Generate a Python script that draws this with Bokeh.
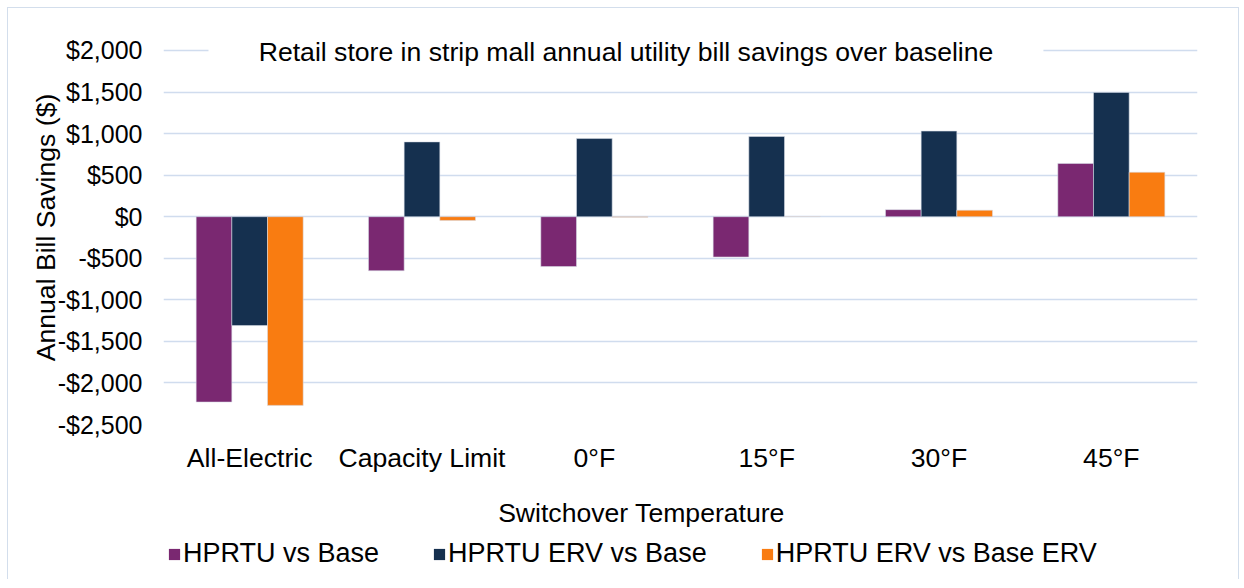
from bokeh.plotting import figure
from bokeh.layouts import column
from bokeh.models import (ColumnDataSource, FactorRange, FixedTicker, CustomJSTickFormatter,
                          Legend, LegendItem, Label, BoxAnnotation, Range1d)
from bokeh.transform import dodge
from bokeh.embed import file_html
from bokeh.resources import INLINE

categories = ["All-Electric", "Capacity Limit", "0°F", "15°F", "30°F", "45°F"]
hprtu_vs_base = [-2230, -650, -600, -485, 85, 640]
hprtu_erv_vs_base = [-1310, 900, 940, 965, 1030, 1495]
hprtu_erv_vs_base_erv = [-2270, -45, -8, 3, 78, 535]
series_names = ["HPRTU vs Base", "HPRTU ERV vs Base", "HPRTU ERV vs Base ERV"]
y_ticks = [-2500, -2000, -1500, -1000, -500, 0, 500, 1000, 1500, 2000]
title_text = "Retail store in strip mall annual utility bill savings over baseline"
x_title = "Switchover Temperature"
y_title = "Annual Bill Savings ($)"

colors = ["#7a2871", "#15304f", "#f97c11"]
FONT = "Liberation Sans"
FS = "26.6px"
BORDER = "1px solid #d3deec"

src = ColumnDataSource(dict(cat=categories, a=hprtu_vs_base, b=hprtu_erv_vs_base,
                            c=hprtu_erv_vs_base_erv))

p = figure(x_range=FactorRange(*categories), y_range=(-2500, 2240),
           width=1232, height=477, output_backend="svg", toolbar_location=None,
           min_border_left=155, min_border_right=43, min_border_top=22, min_border_bottom=61)
p.styles = {"border-left": BORDER, "border-right": BORDER, "border-top": BORDER}
p.outline_line_color = None
p.background_fill_color = "white"
p.border_fill_color = "white"

bw = 0.207
for key, off, col in zip(["a", "b", "c"], [-bw, 0, bw], colors):
    p.vbar(x=dodge("cat", off, range=p.x_range), top=key, bottom=0, width=bw, source=src,
           fill_color=col, line_color="#d8dce8", line_width=0.8, line_alpha=0.7)

p.xgrid.grid_line_color = None
p.ygrid.grid_line_color = "#d0dcee"
p.ygrid.grid_line_width = 1.6
p.ygrid.ticker = FixedTicker(ticks=y_ticks)

p.yaxis.ticker = FixedTicker(ticks=y_ticks)
p.yaxis.formatter = CustomJSTickFormatter(code="""
const a = Math.abs(tick).toLocaleString('en-US');
return (tick < 0 ? '-' : '') + '$' + a;
""")
for ax in [p.xaxis[0], p.yaxis[0]]:
    ax.axis_line_color = None
    ax.major_tick_line_color = None
    ax.minor_tick_line_color = None
    ax.major_tick_out = 0
    ax.major_tick_in = 0
    ax.major_label_text_font = FONT
    ax.major_label_text_color = "black"
    ax.axis_label_text_font = FONT
    ax.axis_label_text_font_style = "normal"
    ax.axis_label_text_color = "black"
    ax.axis_label_text_font_size = FS

p.yaxis.major_label_text_font_size = "25px"
p.yaxis.major_label_standoff = 21
p.yaxis.axis_label = y_title
p.yaxis.axis_label_standoff = -6

p.xaxis.major_label_text_font_size = FS
p.xaxis.major_label_standoff = 18

# white box behind the in-plot title (hides the top gridline there)
p.add_layout(BoxAnnotation(left=0.261, right=5.106, bottom=1955, top=2060,
                           fill_color="white", fill_alpha=1, line_color=None))
p.add_layout(Label(x=2.684, y=1976, text=title_text, text_font=FONT, text_font_size=FS,
                   text_color="black", text_align="center", text_baseline="middle"))

# strip below the chart: x-axis title and legend
q = figure(width=1232, height=95, output_backend="svg", toolbar_location=None,
           x_range=Range1d(0, 1034), y_range=Range1d(0, 95),
           min_border_left=0, min_border_right=0, min_border_top=0, min_border_bottom=0)
q.styles = {"border-left": BORDER, "border-right": BORDER}
q.axis.visible = False
q.grid.visible = False
q.outline_line_color = None
q.border_fill_color = "white"
q.background_fill_color = "white"
q.add_layout(Label(x=478, y=67, text=x_title, text_font=FONT, text_font_size=FS,
                   text_color="black", text_align="center", text_baseline="middle"))
nan = float("nan")
swatches = [q.vbar(x=[nan], top=[nan], width=1, fill_color=c, line_color=None) for c in colors]
legend = Legend(items=[LegendItem(label=n, renderers=[r], index=0) for n, r in zip(series_names, swatches)],
                orientation="horizontal", location=(4, 10), padding=0, margin=0,
                spacing=53, glyph_width=14, glyph_height=14, label_standoff=2,
                label_text_font=FONT, label_text_font_size="27px", label_text_color="black",
                border_line_color=None, background_fill_alpha=0)
q.add_layout(legend)

layout = column(p, q, spacing=0)
layout.styles = {"margin-left": "7px", "margin-top": "7px"}

open("out.html", "w").write(file_html(layout, INLINE))
